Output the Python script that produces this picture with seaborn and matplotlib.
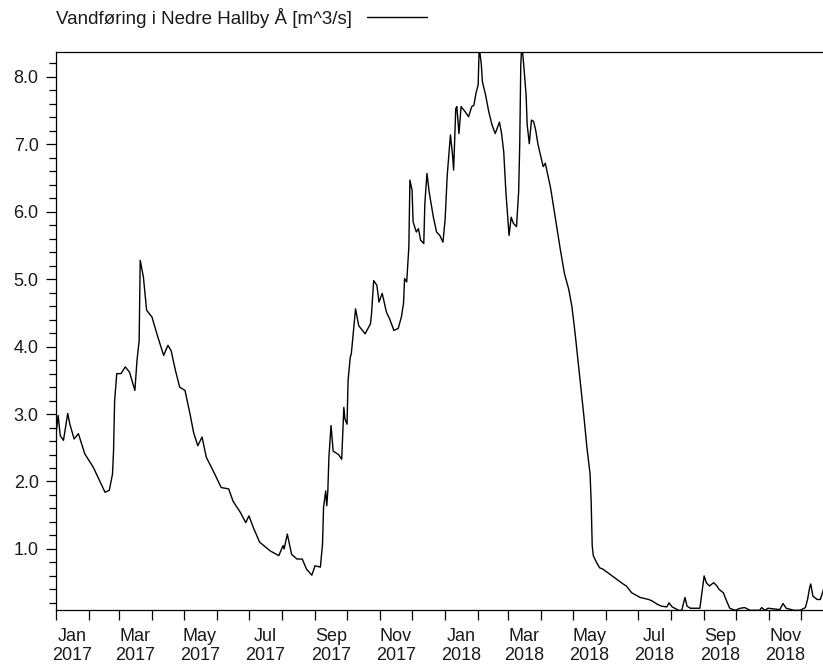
import pandas as pd
import numpy as np
import matplotlib
matplotlib.use("Agg")
import matplotlib.pyplot as plt
import matplotlib.dates as mdates
from matplotlib.ticker import MultipleLocator, FormatStrFormatter, NullFormatter
import seaborn as sns

# Daily discharge (days counted from 1 Jan 2017)
start_date = "2017-01-01"
day_offset = [
    0, 2, 4, 7, 11, 13, 17, 21, 27, 35, 41, 46, 50, 53, 54, 55, 57, 61, 65, 69,
    74, 76, 78, 79, 82, 85, 90, 95, 101, 105, 108, 112, 116, 121, 126, 129, 133, 137, 141, 148,
    155, 162, 166, 173, 178, 181, 185, 191, 201, 209, 213, 214, 217, 221, 226, 231, 235, 240, 243, 248,
    250, 251, 253, 254, 255, 256, 258, 260, 265, 268, 270, 271, 273, 274, 276, 277, 279, 281, 284, 290,
    295, 296, 298, 301, 303, 306, 310, 313, 317, 321, 324, 326, 327, 329, 331, 332, 334, 335, 338, 340,
    342, 345, 346, 348, 350, 354, 357, 360, 363, 365, 367, 370, 372, 373, 375, 376, 378, 380, 384, 387,
    390, 392, 394, 396, 397, 399, 400, 403, 406, 409, 412, 416, 418, 420, 422, 425, 427, 429, 432, 434,
    435, 436, 437, 439, 441, 442, 444, 446, 448, 450, 452, 457, 459, 464, 468, 473, 477, 481, 484, 487,
    491, 495, 498, 501, 502, 503, 504, 507, 510, 513, 520, 526, 532, 535, 540, 548, 556, 559, 564, 568,
    573, 575, 578, 584, 587, 590, 592, 595, 604, 607, 608, 610, 613, 617, 620, 622, 626, 629, 632, 637,
    642, 646, 651, 660, 662, 665, 668, 679, 682, 685, 692, 698, 703, 705, 707, 708, 710, 714, 717, 720,
]
flow = [
    2.70, 2.98, 2.68, 2.61, 3.01, 2.85, 2.63, 2.71, 2.41, 2.21, 2.01, 1.84, 1.87, 2.11, 2.46, 3.20, 3.60, 3.60, 3.70, 3.62,
    3.35, 3.80, 4.09, 5.28, 5.03, 4.54, 4.44, 4.17, 3.87, 4.02, 3.94, 3.65, 3.40, 3.35, 2.98, 2.73, 2.53, 2.66, 2.36, 2.14,
    1.91, 1.89, 1.71, 1.54, 1.39, 1.49, 1.32, 1.10, 0.97, 0.90, 1.05, 1.00, 1.22, 0.92, 0.85, 0.85, 0.70, 0.61, 0.75, 0.73,
    1.07, 1.62, 1.86, 1.64, 1.86, 2.36, 2.83, 2.45, 2.40, 2.33, 3.10, 2.93, 2.85, 3.50, 3.84, 3.89, 4.22, 4.56, 4.31, 4.19,
    4.34, 4.49, 4.98, 4.91, 4.66, 4.79, 4.51, 4.41, 4.24, 4.27, 4.44, 4.64, 5.01, 4.96, 5.48, 6.47, 6.32, 5.85, 5.70, 5.75,
    5.58, 5.53, 6.12, 6.57, 6.30, 5.92, 5.70, 5.65, 5.55, 5.88, 6.54, 7.14, 6.84, 6.62, 7.53, 7.56, 7.16, 7.56, 7.48, 7.41,
    7.56, 7.58, 7.76, 7.88, 8.45, 8.18, 7.93, 7.73, 7.48, 7.29, 7.16, 7.33, 7.16, 6.89, 6.30, 5.65, 5.92, 5.83, 5.78, 6.30,
    6.99, 8.18, 8.50, 8.13, 7.73, 7.29, 7.01, 7.36, 7.34, 7.21, 7.01, 6.67, 6.72, 6.35, 5.95, 5.45, 5.08, 4.85, 4.59, 4.19,
    3.60, 3.00, 2.51, 2.11, 1.71, 1.05, 0.90, 0.80, 0.72, 0.70, 0.62, 0.55, 0.48, 0.45, 0.35, 0.28, 0.25, 0.23, 0.18, 0.15,
    0.14, 0.20, 0.14, 0.09, 0.09, 0.28, 0.15, 0.12, 0.12, 0.48, 0.60, 0.50, 0.45, 0.50, 0.45, 0.40, 0.35, 0.23, 0.12, 0.09,
    0.12, 0.13, 0.09, 0.09, 0.13, 0.09, 0.12, 0.10, 0.19, 0.12, 0.09, 0.09, 0.13, 0.25, 0.43, 0.48, 0.30, 0.25, 0.25, 0.40,
]
series_label = "Vandføring i Nedre Hallby Å [m^3/s]"

df = pd.DataFrame({
    "date": pd.Timestamp(start_date) + pd.to_timedelta(day_offset, unit="D"),
    "flow": flow,
})

sns.set_style("ticks")
plt.rcParams["font.family"] = ["Liberation Sans", "DejaVu Sans"]
fs = 13

fig = plt.figure(figsize=(8.23, 6.70), dpi=100)
ax = fig.add_axes([56 / 823, 1 - 610 / 670, 767 / 823, 558 / 670])

sns.lineplot(data=df, x="date", y="flow", ax=ax, color="black", linewidth=1.0,
             label=series_label)

ax.set_xlim(pd.Timestamp(start_date), pd.Timestamp(start_date) + pd.Timedelta(days=719.5))
ax.set_ylim(0.094, 8.37)
ax.set_xlabel("")
ax.set_ylabel("")

# y axis: major every 1.0, minor every 0.2
ax.yaxis.set_major_locator(MultipleLocator(1.0))
ax.yaxis.set_minor_locator(MultipleLocator(0.2))
ax.yaxis.set_major_formatter(FormatStrFormatter("%.1f"))

# x axis: tick at every month start, labels centred mid-month every 2nd month
ax.xaxis.set_major_locator(mdates.MonthLocator())
ax.xaxis.set_major_formatter(NullFormatter())
ax.xaxis.set_minor_locator(mdates.MonthLocator(bymonth=[1, 3, 5, 7, 9, 11], bymonthday=16))
ax.xaxis.set_minor_formatter(mdates.DateFormatter("%b\n%Y"))

ax.tick_params(axis="y", which="major", direction="out", length=7.5, width=0.9,
               pad=5, labelsize=fs, labelcolor="#1a1a1a", color="black")
ax.tick_params(axis="y", which="minor", direction="out", length=5, width=0.9, color="black")
ax.tick_params(axis="x", which="major", direction="out", length=7.5, width=0.9, color="black")
ax.tick_params(axis="x", which="minor", length=0, pad=13, labelsize=fs, labelcolor="#1a1a1a")
for lbl in ax.get_xticklabels(minor=True):
    lbl.set_linespacing(1.15)

for side in ["left", "top", "bottom"]:
    ax.spines[side].set_visible(True)
    ax.spines[side].set_linewidth(0.9)
    ax.spines[side].set_color("black")
ax.spines["right"].set_visible(False)

ax.legend(loc="center left", bbox_to_anchor=(56 / 823, 1 - 18 / 670),
          bbox_transform=fig.transFigure, frameon=False, markerfirst=False,
          handlelength=3.2, handletextpad=0.8, borderpad=0, borderaxespad=0,
          fontsize=13.5, labelcolor="#1a1a1a")

fig.savefig("out.png", dpi=100, facecolor="white")
